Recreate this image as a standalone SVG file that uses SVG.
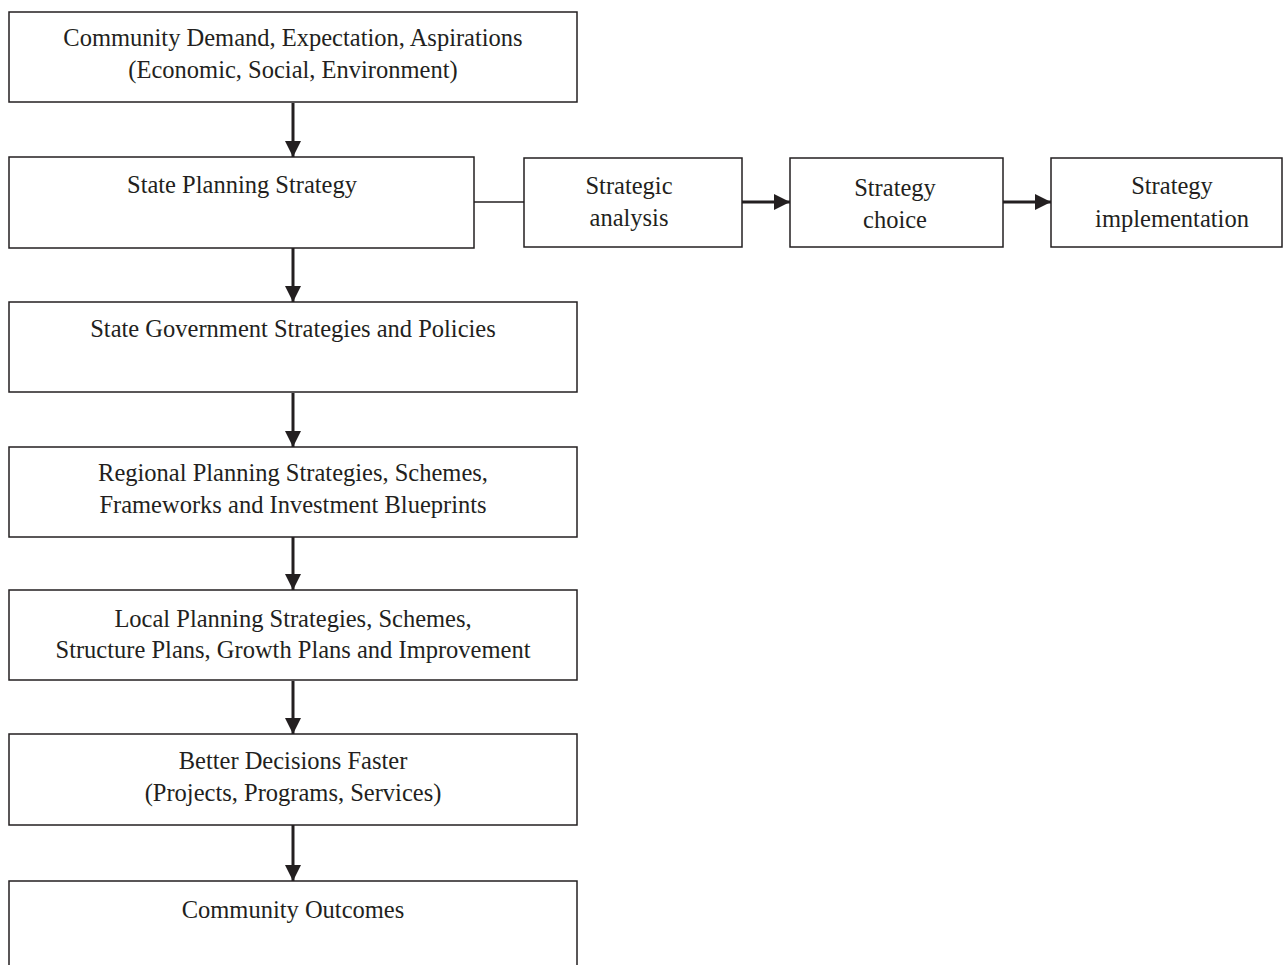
<svg xmlns="http://www.w3.org/2000/svg" width="1283" height="965" viewBox="0 0 1283 965">
<defs>
<style>
.box{fill:#fff;stroke:#231f20;stroke-width:1.5}
.t{font-family:"Liberation Serif",serif;font-size:24.5px;fill:#231f20;text-anchor:middle}
.arr{stroke:#231f20;stroke-width:3;fill:none}
.thin{stroke:#231f20;stroke-width:1.3;fill:none}
</style>
<marker id="ah" markerUnits="userSpaceOnUse" markerWidth="16" markerHeight="16" viewBox="0 0 16 16" refX="16" refY="8" orient="auto">
<path d="M0,0 L16,8 L0,16 Z" fill="#231f20"/>
</marker>
</defs>
<rect width="1283" height="965" fill="#fff"/>
<g id="connectors">
<line class="arr" x1="293" y1="103" x2="293" y2="157" marker-end="url(#ah)"/>
<line class="arr" x1="293" y1="248" x2="293" y2="302" marker-end="url(#ah)"/>
<line class="arr" x1="293" y1="393" x2="293" y2="447" marker-end="url(#ah)"/>
<line class="arr" x1="293" y1="537" x2="293" y2="590" marker-end="url(#ah)"/>
<line class="arr" x1="293" y1="681" x2="293" y2="734" marker-end="url(#ah)"/>
<line class="arr" x1="293" y1="825" x2="293" y2="881" marker-end="url(#ah)"/>
<line class="thin" x1="474" y1="202" x2="524" y2="202"/>
<line class="arr" x1="742" y1="202" x2="790" y2="202" marker-end="url(#ah)"/>
<line class="arr" x1="1003" y1="202" x2="1051" y2="202" marker-end="url(#ah)"/>
</g>
<g id="n1"><rect class="box" x="9" y="12" width="568" height="90"/>
<text class="t" x="293" y="46">Community Demand, Expectation, Aspirations</text>
<text class="t" x="293" y="78">(Economic, Social, Environment)</text></g>
<g id="n2"><rect class="box" x="9" y="157" width="465" height="91"/>
<text class="t" x="242" y="193">State Planning Strategy</text></g>
<g id="n3"><rect class="box" x="9" y="302" width="568" height="90"/>
<text class="t" x="293" y="337">State Government Strategies and Policies</text></g>
<g id="n4"><rect class="box" x="9" y="447" width="568" height="90"/>
<text class="t" x="293" y="481">Regional Planning Strategies, Schemes,</text>
<text class="t" x="293" y="513">Frameworks and Investment Blueprints</text></g>
<g id="n5"><rect class="box" x="9" y="590" width="568" height="90"/>
<text class="t" x="293" y="627">Local Planning Strategies, Schemes,</text>
<text class="t" x="293" y="658">Structure Plans, Growth Plans and Improvement</text></g>
<g id="n6"><rect class="box" x="9" y="734" width="568" height="91"/>
<text class="t" x="293" y="769">Better Decisions Faster</text>
<text class="t" x="293" y="801">(Projects, Programs, Services)</text></g>
<g id="n7"><rect class="box" x="9" y="881" width="568" height="100"/>
<text class="t" x="293" y="918">Community Outcomes</text></g>
<g id="n8"><rect class="box" x="524" y="158" width="218" height="89"/>
<text class="t" x="629" y="194">Strategic</text>
<text class="t" x="629" y="226">analysis</text></g>
<g id="n9"><rect class="box" x="790" y="158" width="213" height="89"/>
<text class="t" x="895" y="196">Strategy</text>
<text class="t" x="895" y="228">choice</text></g>
<g id="n10"><rect class="box" x="1051" y="158" width="231" height="89"/>
<text class="t" x="1172" y="194">Strategy</text>
<text class="t" x="1172" y="227">implementation</text></g>
</svg>
